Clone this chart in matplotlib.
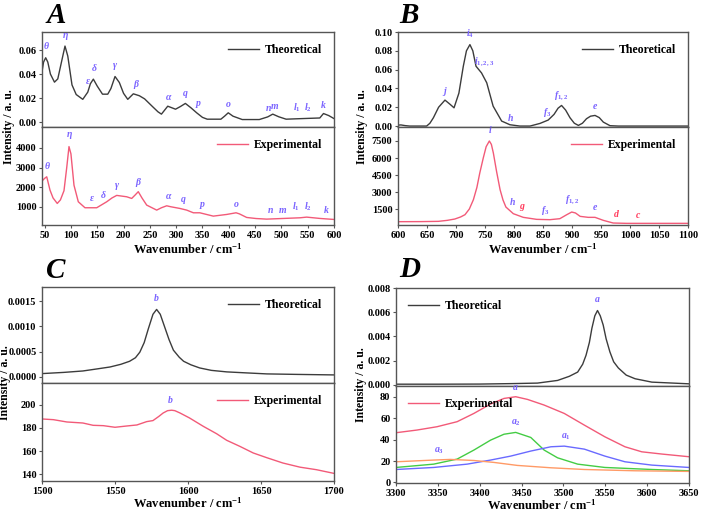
import matplotlib
matplotlib.use("Agg")
import matplotlib.pyplot as plt
import numpy as np

# ---------------- DATA ----------------
# Panel A (45-600 cm-1)
a_theo_x = [45, 48, 52, 56, 61, 68.7, 75, 82, 88.7, 94, 102, 110, 122.5, 132, 137, 142.6, 150, 160, 170, 176, 183.8,
            192, 200, 208, 218.6, 230, 240, 255, 265.5, 272, 284, 298.8, 308, 317.5, 328, 339, 350, 359, 385, 392,
            399, 408, 425.6, 458, 474, 483.6, 495, 509, 540, 573, 580, 590, 600]
a_theo_y = [0.042, 0.050, 0.0536, 0.050, 0.040, 0.0333, 0.036, 0.050, 0.0633, 0.055, 0.031, 0.023, 0.019, 0.025, 0.032,
            0.0358, 0.030, 0.0233, 0.0233, 0.028, 0.038, 0.033, 0.024, 0.019, 0.0236, 0.022, 0.0194, 0.013, 0.0086,
            0.0067, 0.0133, 0.0108, 0.013, 0.0156, 0.012, 0.0078, 0.004, 0.0025, 0.0025, 0.005, 0.0078, 0.005, 0.0022,
            0.0022, 0.0044, 0.0067, 0.0045, 0.0025, 0.003, 0.0035, 0.0072, 0.0055, 0.003]
a_exp_x = [45, 50, 54, 60.2, 66, 74, 80, 86.8, 92, 96.3, 100, 105.8, 114, 126.7, 149, 168, 178, 187, 206, 215.5, 222,
           228, 235, 244, 263, 272, 282, 290, 307, 320, 332.7, 345, 370.6, 396, 413.8, 420, 434, 452, 472, 503.8,
           535.5, 548, 573.5, 600]
a_exp_y = [2312, 2450, 2530, 1850, 1450, 1170, 1350, 1820, 3000, 4070, 3700, 2100, 1255, 950, 950, 1255, 1450, 1580,
           1510, 1425, 1600, 1770, 1450, 1085, 830, 950, 1050, 1000, 915, 830, 693, 693, 523, 608, 693, 640, 455, 400,
           370, 404, 438, 472, 404, 353]
a_theo_lbl = ["θ", "η", "ε", "δ", "γ", "β", "α", "q", "p", "o", "n", "m", "l$_1$", "l$_2$", "k"]
a_theo_lx = [52, 89, 133, 144, 184, 223, 285, 318, 342, 400, 476, 487, 529, 550, 580]
a_theo_ly = [0.059, 0.068, 0.030, 0.041, 0.043, 0.028, 0.017, 0.020, 0.012, 0.011, 0.0075, 0.0095, 0.0065, 0.0065, 0.010]
a_exp_lbl = ["θ", "η", "ε", "δ", "γ", "β", "α", "q", "p", "o", "n", "m", "l$_1$", "l$_2$", "k"]
a_exp_lx = [55, 97, 140, 162, 188, 228, 285, 314, 350, 414, 480, 502, 528, 551, 585]
a_exp_ly = [2850, 4450, 1200, 1350, 1850, 2000, 1300, 1150, 900, 900, 560, 600, 660, 700, 580]

# Panel B (600-1100 cm-1)
b_theo_x = [600, 605, 612, 620, 649.4, 655, 661, 670, 681, 690, 696.6, 705, 712.6, 718, 724, 729, 734.5, 744, 753,
            764, 778.7, 793, 810, 827.6, 844.8, 859, 869, 876, 882, 889, 896.6, 904, 911, 918, 925, 932, 939.7, 947,
            954, 965.5, 980, 1100]
b_theo_y = [0.001, 0.0012, 0.0005, 0.0, 0.0, 0.003, 0.0088, 0.020, 0.0276, 0.023, 0.0194, 0.035, 0.0636, 0.080,
            0.0866, 0.080, 0.0636, 0.0565, 0.046, 0.0212, 0.0053, 0.0014, 0.0, 0.0, 0.0028, 0.0064, 0.0124, 0.019,
            0.0219, 0.017, 0.0088, 0.003, 0.0007, 0.003, 0.0078, 0.0105, 0.0113, 0.009, 0.0042, 0.0004, 0.0, 0.0]
b_exp_x = [600, 640, 669.6, 685, 698, 708, 715.5, 723, 730, 736, 741, 747, 752, 757.5, 761, 764.4, 770, 776, 781, 786,
           798.8, 816, 839, 862, 879, 891, 899.5, 906, 914, 928, 939.7, 954, 971, 994, 1017, 1100]
b_exp_y = [382, 390, 412, 500, 618, 800, 1000, 1500, 2324, 3400, 4676, 6000, 7000, 7500, 7200, 6441, 4800, 3206,
           2300, 1676, 1088, 765, 588, 559, 647, 1000, 1235, 1150, 853, 765, 765, 500, 265, 235, 235, 235]
b_theo_lbl = ["j", "i$_4$", "i$_{1,2,3}$", "h", "f$_3$", "f$_{1,2}$", "e"]
b_theo_lx = [681, 724, 749, 794, 858, 882, 940]
b_theo_ly = [0.032, 0.091, 0.062, 0.0035, 0.0075, 0.026, 0.0155]
b_exp_lbl = ["i", "h", "g", "f$_3$", "f$_{1,2}$", "e", "d", "c"]
b_exp_lx = [758, 797, 814, 853, 901, 940, 977, 1014]
b_exp_ly = [8000, 1700, 1350, 800, 1750, 1200, 600, 550]
b_exp_lcol = ["b", "b", "r", "b", "b", "b", "r", "r"]

# Panel C (1500-1700 cm-1)
c_theo_x = [1500, 1515, 1528, 1538, 1546.6, 1554, 1560, 1564, 1567, 1570, 1572.8, 1576, 1578.5, 1581, 1584, 1587,
            1590, 1594, 1597, 1602, 1608, 1616, 1626.5, 1640, 1654, 1675, 1700]
c_theo_y = [0.000066, 0.00009, 0.000118, 0.00016, 0.000197, 0.00025, 0.00031, 0.00038, 0.00049, 0.00068, 0.00095,
            0.00124, 0.001336, 0.00124, 0.00099, 0.00074, 0.00053, 0.00039, 0.00031, 0.00024, 0.000178, 0.00013,
            0.0001, 0.00008, 0.00006, 0.00005, 0.00004]
c_exp_x = [1500, 1507.8, 1517, 1528, 1535, 1542, 1550, 1558, 1565, 1571.7, 1576, 1580, 1583, 1586, 1588.8, 1591,
           1594.5, 1601, 1610.5, 1619.6, 1626.5, 1635.6, 1644.7, 1654, 1665, 1676.7, 1688, 1700]
c_exp_y = [187.8, 187.2, 185.2, 184.3, 182.3, 182, 180.6, 181.7, 182.6, 185.5, 186.4, 190, 193, 195, 195.4, 195,
           193, 188.7, 181.4, 175, 169.3, 164, 158.3, 154.2, 149.6, 146, 143.8, 140.6]
c_theo_lbl = ["b"]
c_theo_lx = [1578]
c_theo_ly = [0.00147]
c_exp_lbl = ["b"]
c_exp_lx = [1588]
c_exp_ly = [200]

# Panel D (3300-3650 cm-1)
d_theo_x = [3300, 3350, 3400, 3440, 3469, 3493, 3507, 3517, 3523, 3527, 3531, 3534, 3537.5, 3540.7, 3544, 3547.5,
            3551, 3555.5, 3560, 3565.6, 3575, 3585.6, 3605.6, 3650]
d_theo_y = [0.00005, 0.00005, 0.00006, 0.0001, 0.00014, 0.00036, 0.0007, 0.00105, 0.0017, 0.00244, 0.0035, 0.00467,
            0.0057, 0.00614, 0.0057, 0.00494, 0.0038, 0.00272, 0.0019, 0.00139, 0.0008, 0.0005, 0.00022, 0.00008]
d_exp_x = [3300, 3325, 3349, 3373, 3393, 3413, 3429, 3443, 3457, 3477, 3501, 3525, 3549.5, 3573.5, 3593.6, 3617.7, 3650]
d_exp_y = [46.4, 48.9, 52, 56.7, 64.4, 73.2, 78.4, 80, 77.5, 72.2, 64.4, 53.5, 42.6, 33.3, 28.6, 26.5, 24]
d_a2_x = [3300, 3345, 3373, 3393, 3413, 3429, 3443, 3461, 3477, 3493, 3517, 3549.5, 3605.6, 3650]
d_a2_y = [14, 17.1, 21.8, 30.2, 39.5, 45, 46.7, 42, 30.2, 23, 17.1, 14, 12.1, 10.9]
d_a1_x = [3300, 3345, 3385, 3413, 3437, 3461, 3485, 3501, 3525, 3549.5, 3573.5, 3605.6, 3650]
d_a1_y = [12.1, 14, 17.1, 20.9, 24.6, 29.3, 33.3, 33.9, 31.1, 24.6, 19.3, 16.2, 14]
d_a3_x = [3300, 3345, 3365, 3393, 3417, 3445, 3485, 3525, 3585.6, 3650]
d_a3_y = [19.3, 20.9, 21.5, 20.5, 18.7, 15.9, 13.7, 12.1, 10.9, 10.3]
d_exp_lbl = ["a", "a$_2$", "a$_1$", "a$_3$"]
d_exp_lx = [3443, 3443, 3503, 3352]
d_exp_ly = [84, 51, 38, 25]

# ---------------- STYLE ----------------
plt.rcParams['font.family'] = ['Liberation Serif', 'DejaVu Serif']
plt.rcParams['mathtext.fontset'] = 'custom'
plt.rcParams['mathtext.rm'] = 'Liberation Serif:bold'
plt.rcParams['mathtext.it'] = 'Liberation Serif:italic:bold'
plt.rcParams['mathtext.bf'] = 'Liberation Serif:bold'

THEO = "#3c3c3c"
EXP = "#f25a78"
LBL = "#7a63ff"
LBLR = "#ff3b5c"
SPINE = "#555555"
W, H = 701, 511

fig = plt.figure(figsize=(W / 100, H / 100), dpi=100)


def ax_at(l, t, r, b):
    return fig.add_axes([l / W, 1 - b / H, (r - l) / W, (b - t) / H])


def style(ax, xlim, ylim, yticks, yfmt, show_x):
    ax.set_xlim(*xlim)
    ax.set_ylim(*ylim)
    ax.set_yticks(yticks)
    ax.set_yticklabels([yfmt.format(v) for v in yticks])
    for s in ax.spines.values():
        s.set_color(SPINE)
        s.set_linewidth(1.0)
    ax.tick_params(direction='out', length=2.5, width=0.8, pad=1.5, colors=SPINE, labelcolor='black', labelsize=7.5)
    for lab in ax.get_yticklabels() + ax.get_xticklabels():
        lab.set_fontweight('bold')
    if not show_x:
        ax.tick_params(axis='x', bottom=False, labelbottom=False)


def legend(ax, loc):
    leg = ax.legend(loc=loc, frameon=False, fontsize=8.5, handlelength=2.6, borderaxespad=0.6, handletextpad=0.5)
    for t in leg.get_texts():
        t.set_fontweight('bold')


def labels(ax, txts, xs, ys, cols=None):
    for i, (t, x, y) in enumerate(zip(txts, xs, ys)):
        c = LBL
        if cols is not None and cols[i] == "r":
            c = LBLR
        ax.text(x, y, t, color=c, fontsize=7, fontstyle='italic', fontweight='bold', ha='center', va='bottom')


def xt(ax, ticks):
    ax.set_xticks(ticks)
    for lab in ax.get_xticklabels():
        lab.set_fontweight('bold')


# Panel A
axA1 = ax_at(42, 32, 334, 127)
axA2 = ax_at(42, 127, 334, 225)
axA1.plot(a_theo_x, a_theo_y, color=THEO, lw=1.0, label="Theoretical")
axA2.plot(a_exp_x, a_exp_y, color=EXP, lw=1.0, label="Experimental")
style(axA1, (45, 600), (-0.004, 0.075), [0.0, 0.02, 0.04, 0.06], "{:.2f}", False)
style(axA2, (45, 600), (70, 5070), [1000, 2000, 3000, 4000], "{:.0f}", True)
xt(axA2, np.arange(50, 601, 50))
legend(axA1, 'upper right')
legend(axA2, 'upper right')
labels(axA1, a_theo_lbl, a_theo_lx, a_theo_ly)
labels(axA2, a_exp_lbl, a_exp_lx, a_exp_ly)

# Panel B
axB1 = ax_at(398, 32, 688, 127)
axB2 = ax_at(398, 127, 688, 225)
axB1.plot(b_theo_x, b_theo_y, color=THEO, lw=1.0, label="Theoretical")
axB2.plot(b_exp_x, b_exp_y, color=EXP, lw=1.0, label="Experimental")
style(axB1, (600, 1100), (-0.001, 0.100), [0.0, 0.02, 0.04, 0.06, 0.08, 0.10], "{:.2f}", False)
style(axB2, (600, 1100), (90, 8735), [1500, 3000, 4500, 6000, 7500], "{:.0f}", True)
xt(axB2, np.arange(600, 1101, 50))
legend(axB1, 'upper right')
legend(axB2, 'upper right')
labels(axB1, b_theo_lbl, b_theo_lx, b_theo_ly)
labels(axB2, b_exp_lbl, b_exp_lx, b_exp_ly, b_exp_lcol)

# Panel C
axC1 = ax_at(42, 287, 334, 383)
axC2 = ax_at(42, 383, 334, 481)
axC1.plot(c_theo_x, c_theo_y, color=THEO, lw=1.0, label="Theoretical")
axC2.plot(c_exp_x, c_exp_y, color=EXP, lw=1.0, label="Experimental")
style(axC1, (1500, 1700), (-0.00012, 0.00178), [0.0, 0.0005, 0.0010, 0.0015], "{:.4f}", False)
style(axC2, (1500, 1700), (134, 219), [140, 160, 180, 200], "{:.0f}", True)
xt(axC2, np.arange(1500, 1701, 50))
legend(axC1, 'upper right')
legend(axC2, 'upper right')
labels(axC1, c_theo_lbl, c_theo_lx, c_theo_ly)
labels(axC2, c_exp_lbl, c_exp_lx, c_exp_ly)

# Panel D
axD1 = ax_at(396, 288, 689, 386)
axD2 = ax_at(396, 386, 689, 483)
axD1.plot(d_theo_x, d_theo_y, color=THEO, lw=1.0, label="Theoretical")
axD2.plot(d_exp_x, d_exp_y, color=EXP, lw=1.0, label="Experimental")
axD2.plot(d_a2_x, d_a2_y, color="#44cc44", lw=1.0)
axD2.plot(d_a1_x, d_a1_y, color="#6a6aff", lw=1.0)
axD2.plot(d_a3_x, d_a3_y, color="#ff9a66", lw=1.0)
style(axD1, (3300, 3650), (-0.0001, 0.008), [0.0, 0.002, 0.004, 0.006, 0.008], "{:.3f}", False)
style(axD2, (3300, 3650), (-0.5, 90), [0, 20, 40, 60, 80], "{:.0f}", True)
xt(axD2, np.arange(3300, 3651, 50))
legend(axD1, 'upper left')
legend(axD2, 'upper left')
axD1.text(3541, 0.0067, "a", color=LBL, fontsize=7, fontstyle='italic', fontweight='bold', ha='center', va='bottom')
labels(axD2, d_exp_lbl, d_exp_lx, d_exp_ly)

# Panel letters
for txt, x, y in [("A", 47, 2), ("B", 399, 2), ("C", 46, 257), ("D", 399, 256)]:
    fig.text(x / W, 1 - y / H, txt, fontsize=21, fontweight='bold', fontstyle='italic', ha='left', va='top')

# Axis labels
for x, y in [(9, 127), (362, 127), (5, 383), (361, 385)]:
    fig.text(x / W, 1 - y / H, "Intensity / a. u.", rotation=90, fontsize=8.5, fontweight='bold', ha='center', va='center')
for x, y in [(188, 249), (543, 249), (188, 503), (542, 505)]:
    fig.text(x / W, 1 - y / H, r"Wavenumber / cm$^{-1}$", fontsize=9, fontweight='bold', ha='center', va='center')

fig.savefig("out.png", dpi=100)
